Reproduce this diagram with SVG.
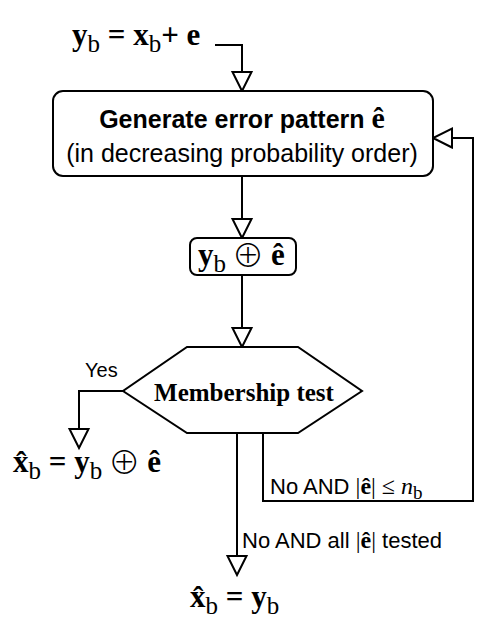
<svg xmlns="http://www.w3.org/2000/svg" width="498" height="627" viewBox="0 0 498 627">
<style>
.m{font-family:"Liberation Serif","Times New Roman",serif;font-weight:bold;font-size:31px;fill:#000}
.sub{font-weight:normal;font-size:25px}
.op{font-family:"Noto Sans CJK JP","DejaVu Sans",sans-serif;font-weight:300;font-size:32px}
.s{font-family:"Liberation Sans",Arial,sans-serif;fill:#000}
.shape{fill:#fff;stroke:#000;stroke-width:2}
.conn{fill:none;stroke:#000;stroke-width:2}
.lbl{font-family:"Liberation Sans",Arial,sans-serif;font-size:22px;fill:#000}
.tm{font-family:"Liberation Serif","Times New Roman",serif}
</style>
<defs>
<marker id="arr" viewBox="-2 -2 24 24" markerWidth="24" markerHeight="24" refX="19" refY="10" orient="auto" markerUnits="userSpaceOnUse" overflow="visible">
<path d="M0,0.5 L19,10 L0,19.5 Z" fill="#fff" stroke="#000" stroke-width="2"/>
</marker>
</defs>
<g id="connectors">
<path class="conn" d="M215,45 H242 V91" marker-end="url(#arr)"/>
<path class="conn" d="M242,176 V238" marker-end="url(#arr)"/>
<path class="conn" d="M242,275 V347" marker-end="url(#arr)"/>
<path class="conn" d="M123,391 H79 V448" marker-end="url(#arr)"/>
<path class="conn" d="M237,433 V575" marker-end="url(#arr)"/>
<path class="conn" d="M263,433 V501 H473 V138 H433" marker-end="url(#arr)"/>
<text class="lbl" x="85" y="377" style="font-size:20px">Yes</text>
<text class="lbl" x="270" y="494">No AND <tspan class="tm" font-size="24">|<tspan font-weight="bold">ê</tspan>| ≤ <tspan font-style="italic">n</tspan><tspan font-size="19" dy="5">b</tspan></tspan></text>
<text class="lbl" x="242" y="548">No AND all <tspan class="tm" font-size="24">|<tspan font-weight="bold">ê</tspan>|</tspan> tested</text>
</g>
<g id="input">
<text class="m" x="72" y="45">y<tspan class="sub" dy="7">b</tspan><tspan dy="-7"> = x</tspan><tspan class="sub" dy="7">b</tspan><tspan dy="-7">+ e</tspan></text>
</g>
<g id="generate">
<rect class="shape" x="53" y="91" width="380" height="85" rx="10"/>
<text class="s" x="242" y="128" text-anchor="middle" font-size="25" font-weight="bold">Generate error pattern <tspan class="tm" font-size="30">ê</tspan></text>
<text class="s" x="242" y="162" text-anchor="middle" font-size="25">(in decreasing probability order)</text>
</g>
<g id="xor">
<rect class="shape" x="190" y="238" width="106" height="37" rx="7"/>
<text class="m" x="198" y="265">y<tspan class="sub" dy="7">b</tspan><tspan dy="-5" dx="6" class="op">⊕</tspan><tspan dy="-2" dx="7">ê</tspan></text>
</g>
<g id="membership">
<polygon class="shape" points="187,347 298,347 362,391 298,433 187,433 123,391"/>
<text class="m" x="244" y="401" text-anchor="middle" style="font-size:25px">Membership test</text>
</g>
<g id="out-yes">
<text class="m" x="13" y="472">x̂<tspan class="sub" dy="7">b</tspan><tspan dy="-7"> = y</tspan><tspan class="sub" dy="7">b</tspan><tspan dy="-5" dx="6" class="op">⊕</tspan><tspan dy="-2" dx="7">ê</tspan></text>
</g>
<g id="out-no">
<text class="m" x="190" y="607">x̂<tspan class="sub" dy="7">b</tspan><tspan dy="-7"> = y</tspan><tspan class="sub" dy="7">b</tspan></text>
</g>
</svg>
